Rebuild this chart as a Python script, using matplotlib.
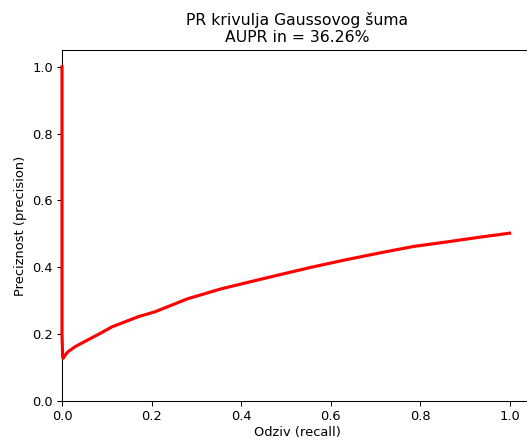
import matplotlib.pyplot as plt
import numpy as np

# vrijednosti ocitane sa slike
recall = [0.0, 0.0, 0.0015, 0.003, 0.006, 0.013, 0.03, 0.058, 0.085, 0.112, 0.17,
          0.208, 0.281, 0.357, 0.431, 0.487, 0.56, 0.636, 0.71, 0.784, 0.86,
          0.933, 1.0]
precision = [1.0, 0.2, 0.13, 0.128, 0.135, 0.147, 0.163, 0.183, 0.202, 0.222, 0.252,
             0.267, 0.306, 0.336, 0.360, 0.378, 0.401, 0.423, 0.443, 0.462, 0.476,
             0.490, 0.502]
aupr = 36.26

dpi = 94
fig = plt.figure(figsize=(527 / dpi, 441 / dpi), dpi=dpi)
ax = fig.add_axes([62 / 527, 40 / 441, 470 / 527, 351 / 441])

ax.plot(recall, precision, 'r-', linewidth=2.4, clip_on=False, zorder=3)
ax.set_xlim(0, 1.05)
ax.set_ylim(0, 1.05)
ax.spines['right'].set_visible(False)  # na originalu je desni rub odrezan
ax.set_title('PR krivulja Gaussovog šuma\nAUPR in = {:.2f}%'.format(aupr))
ax.set_xlabel('Odziv (recall)', labelpad=2)
ax.set_ylabel('Preciznost (precision)')

fig.savefig('out.png', dpi=dpi)
